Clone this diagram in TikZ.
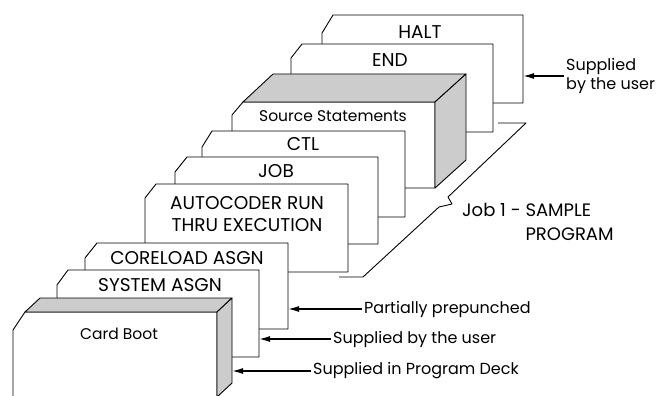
\documentclass[tikz,border=0pt]{standalone}
\usepackage{fontspec}
\setmainfont{Poppins}
\usetikzlibrary{arrows.meta}

\begin{document}
\begin{tikzpicture}[x=1pt, y=-1pt, line join=round,
    card/.style={draw, fill=white, line width=0.9pt},
    shaded/.style={draw, fill=gray!40, line width=0.9pt},
    cardlbl/.style={font=\fontsize{18.5}{22}\selectfont, inner sep=0pt, align=center},
    smalllbl/.style={cardlbl, font=\fontsize{15.5}{19}\selectfont},
    note/.style={font=\fontsize{16}{19}\selectfont, anchor=west, inner sep=2pt, align=left},
    pointer/.style={-{Latex[length=11pt, width=6pt]}, line width=1.4pt}]
    \useasboundingbox (0,0) rectangle (657,396);

    % deck, back to front
    \draw[card] (322,103) -- (322,33) -- (333,15) -- (523,15) -- (523,103) -- cycle;
    \node[cardlbl] (halt) at (420,32) {HALT};

    \draw[card] (291,132) -- (291,58) -- (302,44) -- (493,44) -- (493,132) -- cycle;
    \node[cardlbl] (end) at (390,60) {END};

    % source deck as a block
    \draw[card] (232,188) -- (232,115) -- (243,102) -- (435,102) -- (435,188) -- cycle;
    \draw[shaded] (243,102) -- (273,74) -- (466,74) -- (435,102) -- cycle;
    \draw[shaded] (435,102) -- (466,74) -- (466,160) -- (435,188) -- cycle;
    \node[smalllbl] (src) at (333,116) {Source Statements};

    \draw[card] (202,217) -- (202,147) -- (212,131) -- (405,131) -- (405,217) -- cycle;
    \node[cardlbl] (ctl) at (303,144) {CTL};

    \draw[card] (175,244) -- (175,172) -- (187,157) -- (378,157) -- (378,244) -- cycle;
    \node[cardlbl] (job) at (276,171) {JOB};

    \draw[card] (145,272) -- (145,198) -- (156,184) -- (348,184) -- (348,272) -- cycle;
    \node[cardlbl] (auto) at (247,214) {AUTOCODER RUN\\THRU EXECUTION};

    \draw[card] (85,329) -- (85,258) -- (97,243) -- (288,243) -- (288,329) -- cycle;
    \node[cardlbl] (core) at (187,258) {CORELOAD ASGN};

    \draw[card] (57,357) -- (57,285) -- (68,270) -- (259,270) -- (259,357) -- cycle;
    \node[cardlbl] (sys) at (160,285) {SYSTEM ASGN};

    % boot card as a block
    \draw[card] (13,397) -- (13,330) -- (25,312) -- (217,312) -- (217,397);
    \draw[shaded] (25,312) -- (40,298) -- (232,298) -- (217,312) -- cycle;
    \draw[shaded] (217,312) -- (232,298) -- (232,383) -- (217,397) -- cycle;
    \node[smalllbl] (boot) at (119,334) {Card Boot};

    % job bracket
    \coordinate (jobTip) at (452,204);
    \draw[line width=0.9pt] (498,123) -- (526,123) -- (448,197) -- (jobTip) -- (439,207) -- (363,277) -- (339,277);
    \node[note, font=\fontsize{18}{24}\selectfont] (job1) at (460,222) {Job 1 - SAMPLE\\\phantom{Job 1 - }PROGRAM};

    % where the cards come from
    \coordinate (haltEdge) at (523,76);
    \coordinate (coreEdge) at (288,309);
    \coordinate (sysEdge) at (259,339);
    \coordinate (bootEdge) at (232,371);
    \node[note] (userTop) at (564,76) {Supplied\\by the user};
    \node[note] (prepunch) at (362,309) {Partially prepunched};
    \node[note] (user) at (331,339) {Supplied by the user};
    \node[note] (deck) at (311,371) {Supplied in Program Deck};

    \path[pointer]
        (userTop.west) edge (haltEdge)
        (prepunch.west) edge (coreEdge)
        (user.west) edge (sysEdge)
        (deck.west) edge (bootEdge);
\end{tikzpicture}
\end{document}
